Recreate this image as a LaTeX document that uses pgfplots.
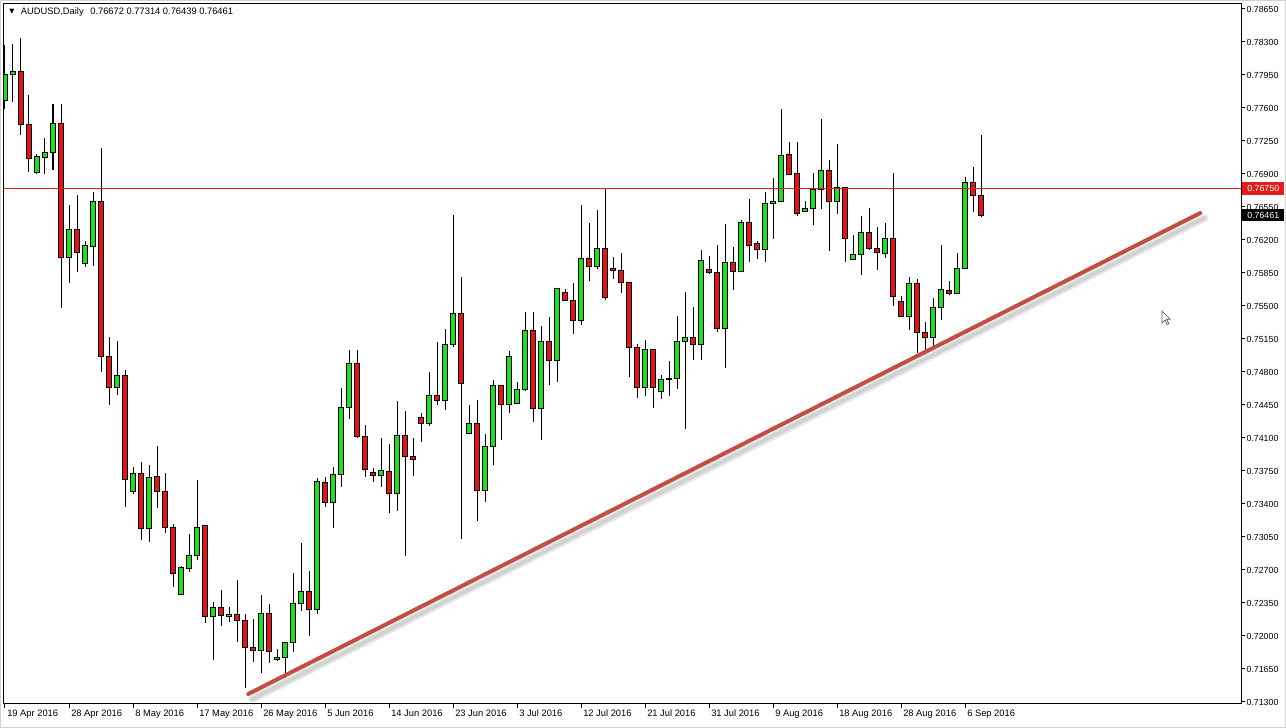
\documentclass[border=0pt]{standalone}
\usepackage{fontspec}
\setmainfont{Liberation Sans}
\newfontfamily\symfont{DejaVu Sans}
\usepackage{pgfplots}
\usepackage{pgfplotstable}
\pgfplotsset{compat=1.18}
\usetikzlibrary{calc}

\definecolor{bull}{RGB}{40,215,40}
\definecolor{bear}{RGB}{215,25,25}
\definecolor{trend}{RGB}{190,80,68}
\definecolor{priceline}{RGB}{225,30,30}

% daily candles, AUDUSD, 19 Apr 2016 .. 8 Sep 2016 (row = bar number)
\pgfplotstableread{
o h l c
0.77682 0.78270 0.77584 0.77956
0.77956 0.78279 0.77664 0.77988
0.77988 0.78342 0.77317 0.77427
0.77427 0.77733 0.76924 0.77062
0.76917 0.77112 0.76905 0.77086
0.77074 0.77282 0.76905 0.77128
0.77128 0.77642 0.76945 0.77439
0.77439 0.77642 0.75479 0.76018
0.76018 0.76571 0.75747 0.76308
0.76308 0.76673 0.75858 0.76070
0.75948 0.76190 0.75916 0.76144
0.76132 0.76709 0.75928 0.76611
0.76611 0.77180 0.74805 0.74967
0.74967 0.75171 0.74452 0.74637
0.74637 0.75124 0.74551 0.74763
0.74763 0.74821 0.73368 0.73660
0.73531 0.73797 0.73503 0.73722
0.73722 0.73846 0.73013 0.73142
0.73142 0.73809 0.72993 0.73683
0.73692 0.74015 0.73358 0.73535
0.73535 0.73732 0.73089 0.73153
0.73153 0.73188 0.72523 0.72665
0.72442 0.72742 0.72430 0.72724
0.72714 0.73082 0.72682 0.72856
0.72856 0.73655 0.72806 0.73153
0.73167 0.73180 0.72141 0.72209
0.72209 0.72364 0.71745 0.72304
0.72304 0.72488 0.72109 0.72220
0.72209 0.72304 0.72152 0.72230
0.72230 0.72594 0.71940 0.72167
0.72167 0.72230 0.71445 0.71880
0.71880 0.72177 0.71728 0.71844
0.71844 0.72432 0.71604 0.72241
0.72241 0.72336 0.71711 0.71838
0.71753 0.71859 0.71738 0.71774
0.71774 0.71940 0.71473 0.71933
0.71933 0.72671 0.71834 0.72347
0.72347 0.72986 0.72262 0.72474
0.72474 0.72693 0.72003 0.72283
0.72283 0.73676 0.72230 0.73641
0.73630 0.73686 0.73371 0.73418
0.73418 0.73789 0.73142 0.73715
0.73715 0.74627 0.73584 0.74426
0.74426 0.75033 0.74298 0.74892
0.74892 0.75033 0.74105 0.74118
0.74118 0.74240 0.73690 0.73768
0.73736 0.73779 0.73637 0.73704
0.73704 0.74097 0.73577 0.73757
0.73747 0.74036 0.73301 0.73514
0.73514 0.74493 0.73329 0.74129
0.74129 0.74383 0.72849 0.73906
0.73906 0.74097 0.73694 0.73874
0.74320 0.74362 0.74054 0.74256
0.74256 0.74797 0.74230 0.74553
0.74553 0.75115 0.74447 0.74500
0.74500 0.75253 0.74400 0.75094
0.75094 0.76465 0.75068 0.75423
0.75423 0.75804 0.73026 0.74680
0.74150 0.74447 0.74140 0.74256
0.74256 0.74500 0.73223 0.73545
0.73545 0.74139 0.73418 0.74012
0.74012 0.74712 0.73810 0.74659
0.74659 0.74665 0.74079 0.74458
0.74458 0.75023 0.74362 0.74959
0.74468 0.74694 0.74458 0.74617
0.74609 0.75433 0.74599 0.75242
0.75242 0.75433 0.74267 0.74411
0.74411 0.75285 0.74079 0.75126
0.75126 0.75383 0.74659 0.74920
0.74920 0.75695 0.74691 0.75688
0.75645 0.75677 0.75555 0.75560
0.75560 0.75741 0.75203 0.75348
0.75348 0.76571 0.75299 0.76006
0.76006 0.76377 0.75762 0.75921
0.75921 0.76515 0.75889 0.76112
0.76112 0.76748 0.75560 0.75592
0.75900 0.76017 0.75783 0.75879
0.75879 0.76060 0.75635 0.75751
0.75751 0.75755 0.74744 0.75062
0.75062 0.75094 0.74521 0.74638
0.74638 0.75136 0.74542 0.75041
0.75041 0.75045 0.74415 0.74638
0.74595 0.74765 0.74511 0.74723
0.74723 0.74914 0.74542 0.74733
0.74733 0.75391 0.74617 0.75126
0.75126 0.75645 0.74192 0.75168
0.75168 0.75486 0.74924 0.75094
0.75094 0.76091 0.74924 0.75985
0.75889 0.76027 0.75836 0.75858
0.75858 0.76144 0.75221 0.75264
0.75264 0.76367 0.74839 0.75964
0.75964 0.76123 0.75667 0.75868
0.75868 0.76409 0.75865 0.76388
0.76388 0.76632 0.75964 0.76144
0.76165 0.76186 0.75995 0.76101
0.76101 0.76706 0.75964 0.76589
0.76589 0.76854 0.76208 0.76611
0.76611 0.77586 0.76605 0.77098
0.77109 0.77236 0.76886 0.76897
0.76908 0.77236 0.76451 0.76483
0.76504 0.76611 0.76494 0.76536
0.76536 0.76908 0.76356 0.76738
0.76738 0.77480 0.76526 0.76939
0.76939 0.77045 0.76078 0.76611
0.76611 0.77218 0.76479 0.76759
0.76759 0.76765 0.75970 0.76218
0.75995 0.76250 0.75990 0.76048
0.76048 0.76451 0.75826 0.76282
0.76282 0.76536 0.76091 0.76112
0.76112 0.76335 0.75879 0.76070
0.76060 0.76377 0.76006 0.76218
0.76218 0.76908 0.75497 0.75596
0.75546 0.75609 0.75380 0.75391
0.75391 0.75804 0.75242 0.75741
0.75741 0.75783 0.74998 0.75221
0.75221 0.75327 0.74892 0.75168
0.75168 0.75582 0.75033 0.75486
0.75486 0.76144 0.75348 0.75677
0.75667 0.75762 0.75614 0.75635
0.75635 0.76060 0.75630 0.75900
0.75900 0.76865 0.75895 0.76812
0.76812 0.76971 0.76494 0.76672
0.76672 0.77314 0.76439 0.76461
}\ohlc

\begin{document}
\begin{tikzpicture}
\begin{axis}[
  scale only axis, width=927.75pt, height=525pt,
  xmin=-0.125, xmax=154.5, ymin=0.712788, ymax=0.78703,
  axis line style={black, line width=0.75pt},
  tick align=outside, major tick length=3pt,
  tick style={black, line width=0.75pt},
  xtick pos=left, ytick pos=right, yticklabel pos=right,
  xtick={0,8,...,120},
  xticklabels={19 Apr 2016, 28 Apr 2016, 8 May 2016, 17 May 2016, 26 May 2016,
    5 Jun 2016, 14 Jun 2016, 23 Jun 2016, 3 Jul 2016, 12 Jul 2016, 21 Jul 2016,
    31 Jul 2016, 9 Aug 2016, 18 Aug 2016, 28 Aug 2016, 6 Sep 2016},
  xticklabel style={anchor=north west, inner sep=0pt, xshift=1.5pt, yshift=-1pt,
    font=\fontsize{7}{8}\selectfont},
  ytick={0.7130,0.7165,0.7200,0.7235,0.7270,0.7305,0.7340,0.7375,0.7410,0.7445,0.7480,
    0.7515,0.7550,0.7585,0.7620,0.7655,0.7690,0.7725,0.7760,0.7795,0.7830,0.7865},
  scaled y ticks=false,
  yticklabel style={/pgf/number format/.cd, fixed, fixed zerofill, precision=5,
    assume math mode=true, /tikz/.cd, anchor=west, inner sep=0pt, xshift=1pt,
    font=\fontsize{6.6}{8}\selectfont},
]
\pgfplotsinvokeforeach{0,...,122}{
  \pgfplotstablegetelem{#1}{o}\of\ohlc \let\vo\pgfplotsretval
  \pgfplotstablegetelem{#1}{h}\of\ohlc \let\vh\pgfplotsretval
  \pgfplotstablegetelem{#1}{l}\of\ohlc \let\vl\pgfplotsretval
  \pgfplotstablegetelem{#1}{c}\of\ohlc \let\vc\pgfplotsretval
  \ifdim\vc pt<\vo pt
    \let\vbot\vc \let\vtop\vo \def\vcol{bear}%
  \else
    \let\vbot\vo \let\vtop\vc \def\vcol{bull}%
  \fi
  \pgfmathsetmacro\xa{#1-0.3}%
  \pgfmathsetmacro\xb{#1+0.3}%
  \edef\candle{%
    \noexpand\addplot[black, line width=0.75pt] coordinates {(#1,\vl) (#1,\vh)};
    \noexpand\addplot[draw=black, line width=0.75pt, fill=\vcol]
      coordinates {(\xa,\vbot) (\xb,\vbot) (\xb,\vtop) (\xa,\vtop)} -- cycle;}%
  \candle
}

% price level
\addplot[priceline, line width=0.75pt] coordinates {(-1,0.7675) (160,0.7675)};

% trend line with its soft shadow
\addplot[gray!18, line width=6pt, line cap=round]
  coordinates {(30.9,0.71332) (149.9,0.76433)};
\addplot[gray!35, line width=3pt, line cap=round]
  coordinates {(30.9,0.71332) (149.9,0.76433)};
\addplot[trend, line width=3pt, line cap=round]
  coordinates {(30.4,0.71385) (149.4,0.76486)};

\coordinate (fsw) at (rel axis cs:0,0);
\coordinate (fne) at (rel axis cs:1,1);
\coordinate (lab1) at (axis cs:154.5,0.7675);
\coordinate (lab2) at (axis cs:154.5,0.76461);
\end{axis}

\node[anchor=base west, inner sep=0pt, font=\fontsize{7}{8}\selectfont]
  at ($(fsw|-fne)+(12.5pt,-8.25pt)$)
  {AUDUSD,Daily\hspace{5pt}0.76672 0.77314 0.76439 0.76461};
\node[anchor=center, inner sep=0pt, font=\symfont\fontsize{5}{5}\selectfont]
  at ($(fsw|-fne)+(6pt,-6.2pt)$) {▼};

\node[fill=priceline, text=white, anchor=west, inner sep=0pt, minimum width=31.5pt,
  minimum height=9.75pt, font=\fontsize{6.6}{8}\selectfont]
  at ([xshift=0.75pt]lab1) {0.76750};
\node[fill=black, text=white, anchor=west, inner sep=0pt, minimum width=31.5pt,
  minimum height=9pt, font=\fontsize{6.6}{8}\selectfont]
  at ([xshift=0.75pt]lab2) {0.76461};

% mouse pointer left in the screenshot
\begin{scope}[shift={($(fsw)+(868.5pt,294.75pt)$)}, x=0.75pt, y=-0.75pt]
  \draw[fill=white, draw=gray!70!black, line width=0.5pt, line join=miter]
    (0,0) -- (0,12) -- (3,9) -- (5.2,13.5) -- (6.8,12.8) -- (4.6,8.3) -- (8.3,8.3) -- cycle;
\end{scope}

\pgfresetboundingbox
\path ($(fsw)+(-3pt,-18pt)$) coordinate (isw) rectangle ($(fne)+(33.75pt,3pt)$) coordinate (ine);
\draw[gray!35, line width=0.75pt] ($(isw)+(0.375pt,0.375pt)$) rectangle ($(ine)+(-0.375pt,-0.375pt)$);
\end{tikzpicture}
\end{document}
